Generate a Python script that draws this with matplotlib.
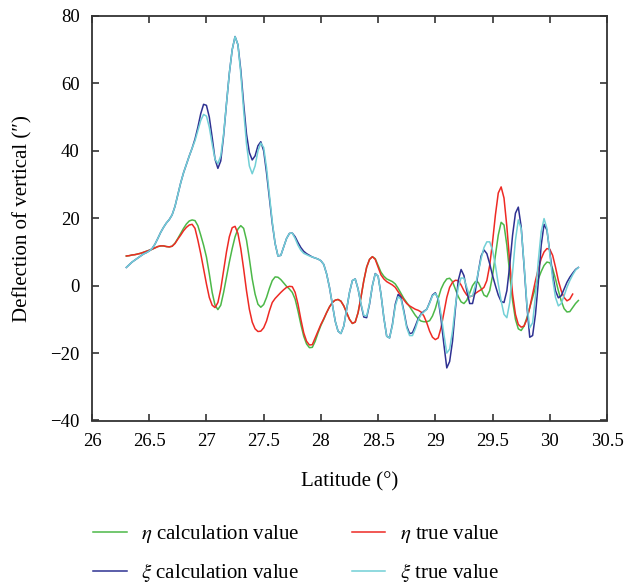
import numpy as np
import matplotlib
matplotlib.use("Agg")
import matplotlib.pyplot as plt

plt.rcParams['font.family'] = ['Liberation Serif', 'DejaVu Serif']
plt.rcParams['mathtext.fontset'] = 'stix'

# latitude grid (deg), 0.025 step
latitude = np.linspace(26.30, 30.25, 159)

xi_calc = [
    5.4, 6.2, 7.0, 7.6, 8.2, 8.8, 9.4, 9.8,
    10.3, 11.0, 12.3, 14.0, 15.8, 17.3, 18.6, 19.6,
    21.0, 23.5, 27.0, 30.5, 33.5, 36.0, 38.5, 40.8,
    43.5, 47.0, 51.0, 53.8, 53.5, 50.0, 44.0, 37.5,
    34.8, 37.0, 44.5, 54.0, 63.0, 70.0, 73.9, 71.5,
    64.0, 54.0, 45.0, 39.5, 37.3, 38.5, 41.5, 42.7,
    40.0, 33.5, 26.0, 18.5, 12.5, 8.8, 9.0, 11.5,
    14.0, 15.5, 15.6, 14.5, 12.8, 11.3, 10.2, 9.5,
    9.0, 8.5, 8.2, 7.9, 7.4, 6.3, 3.5, -0.5,
    -5.5, -10.5, -13.5, -14.2, -12.0, -7.0, -2.0, 1.5,
    2.0, -1.0, -5.5, -9.3, -9.5, -5.5, 0.0, 3.6,
    2.8, -2.5, -9.5, -15.0, -15.5, -11.5, -5.5, -2.6,
    -3.5, -7.5, -12.0, -14.2, -14.0, -12.0, -9.8, -8.4,
    -7.6, -7.0, -5.0, -2.8, -2.1, -4.0, -10.0, -17.5,
    -24.4, -22.5, -16.5, -7.0, 1.5, 4.8, 3.0, -1.5,
    -5.3, -5.3, -1.5, 4.0, 8.8, 10.6, 9.5, 6.5,
    3.0, 0.0, -2.8, -4.7, -5.0, -1.5, 6.0, 15.0,
    21.5, 23.3, 17.5, 6.0, -6.0, -15.3, -14.8, -8.5,
    1.0, 12.0, 18.2, 16.5, 10.0, 3.5, -1.5, -3.6,
    -3.0, -1.0, 1.0, 2.5, 3.7, 4.8, 5.4,
]

xi_true = [
    5.4, 6.2, 7.0, 7.6, 8.2, 8.8, 9.4, 9.8,
    10.3, 11.0, 12.3, 14.0, 15.8, 17.3, 18.6, 19.6,
    21.0, 23.5, 27.0, 30.5, 33.5, 36.0, 38.5, 40.8,
    43.0, 46.0, 49.0, 50.8, 50.3, 47.0, 42.0, 37.5,
    36.2, 38.5, 45.0, 54.0, 63.0, 70.0, 73.9, 71.5,
    63.0, 52.0, 42.0, 35.5, 33.2, 35.5, 40.0, 42.3,
    41.0, 35.0, 27.0, 19.0, 12.5, 8.8, 9.0, 11.5,
    14.0, 15.5, 15.6, 14.0, 12.0, 10.5, 9.6, 9.2,
    8.8, 8.5, 8.2, 7.9, 7.4, 6.3, 3.5, -0.5,
    -5.5, -10.5, -13.5, -14.2, -12.0, -7.0, -2.0, 1.5,
    2.0, -1.0, -5.3, -8.8, -9.0, -5.3, 0.0, 3.5,
    2.8, -2.5, -9.5, -15.0, -15.5, -11.8, -6.0, -3.3,
    -4.0, -8.0, -12.5, -14.8, -14.8, -12.8, -10.2, -8.6,
    -7.8, -7.0, -5.2, -3.0, -2.3, -3.8, -8.5, -14.5,
    -20.0, -18.8, -13.5, -6.0, -0.5, 2.3, 2.2, -0.5,
    -3.2, -3.0, 0.0, 4.0, 8.0, 11.3, 13.0, 13.0,
    10.5, 6.0, 0.5, -4.5, -8.5, -9.5, -5.0, 4.0,
    13.5, 19.5, 17.0, 6.5, -5.5, -12.5, -11.0, -3.0,
    7.5, 16.0, 19.9, 17.0, 9.5, 2.0, -3.5, -6.0,
    -5.3, -3.0, -0.5, 1.5, 3.2, 4.6, 5.4,
]

eta_true = [
    8.8, 8.9, 9.1, 9.2, 9.4, 9.6, 9.9, 10.2,
    10.5, 10.8, 11.2, 11.6, 11.8, 11.8, 11.6, 11.5,
    11.7, 12.5, 13.8, 15.0, 16.3, 17.3, 18.0, 18.2,
    17.0, 13.5, 9.5, 5.0, 0.5, -3.5, -5.8, -6.5,
    -5.0, -1.0, 4.5, 10.0, 14.5, 17.2, 17.6, 15.5,
    11.0, 5.0, -1.5, -7.0, -10.8, -12.8, -13.6, -13.5,
    -12.5, -10.5, -7.5, -5.0, -3.8, -2.9, -2.0, -1.2,
    -0.5, -0.2, -0.3, -2.0, -5.5, -10.0, -14.0, -16.5,
    -17.6, -17.5, -15.5, -13.5, -11.5, -9.8, -8.0, -6.3,
    -5.0, -4.3, -4.1, -4.6, -6.0, -8.0, -10.0, -11.2,
    -10.8, -8.0, -3.5, 1.5, 5.5, 7.8, 8.6, 7.8,
    5.5, 3.2, 2.0, 1.2, 0.7, 0.2, -0.5, -1.8,
    -3.0, -4.2, -5.3, -6.0, -6.5, -7.0, -7.3, -7.8,
    -9.0, -11.0, -13.5, -15.3, -16.0, -15.5, -12.5, -8.0,
    -3.5, -0.5, 1.0, 1.6, 1.5, 0.2, -1.5, -2.8,
    -3.3, -3.0, -2.3, -1.7, -1.2, -0.5, 1.5, 6.0,
    13.0, 21.0, 27.5, 29.3, 26.0, 17.5, 7.0, -2.5,
    -8.5, -11.5, -12.3, -12.0, -10.0, -6.5, -2.5, 1.5,
    5.0, 8.0, 10.0, 11.0, 10.8, 9.0, 5.5, 1.5,
    -1.5, -3.5, -4.5, -4.0, -2.5, np.nan, np.nan,
]

eta_calc = [
    8.8, 8.9, 9.1, 9.2, 9.4, 9.6, 9.9, 10.2,
    10.5, 10.8, 11.2, 11.6, 11.8, 11.8, 11.6, 11.5,
    11.7, 12.6, 14.0, 15.5, 17.0, 18.3, 19.2, 19.5,
    19.3, 17.8, 15.0, 12.0, 8.5, 3.5, -2.0, -5.8,
    -7.1, -5.8, -2.0, 2.5, 7.0, 11.0, 14.5, 16.8,
    17.8, 17.0, 13.5, 8.0, 2.0, -2.5, -5.5, -6.4,
    -5.6, -3.5, -0.8, 1.5, 2.6, 2.5, 1.8, 0.8,
    -0.2, -1.0, -2.0, -4.0, -7.5, -11.5, -15.0, -17.3,
    -18.4, -18.3, -16.5, -14.0, -11.8, -10.0, -8.0, -6.3,
    -5.0, -4.3, -4.1, -4.6, -6.0, -8.0, -10.0, -11.2,
    -10.8, -8.0, -3.5, 1.5, 5.5, 7.8, 8.6, 8.0,
    6.0, 4.0, 2.8, 2.0, 1.6, 1.2, 0.5, -0.8,
    -2.3, -3.8, -5.0, -6.2, -7.5, -8.8, -9.8, -10.5,
    -10.7, -10.7, -10.4, -9.0, -6.8, -3.8, -1.0, 0.8,
    2.0, 2.2, 1.2, -1.0, -3.2, -4.8, -5.3, -4.3,
    -2.2, 0.0, 1.2, 1.0, -0.8, -2.8, -3.3, -1.5,
    3.0, 9.0, 15.0, 18.8, 18.0, 12.0, 3.5, -4.5,
    -10.0, -12.8, -13.3, -12.0, -9.5, -6.5, -3.5, -0.5,
    2.0, 4.2, 6.0, 7.0, 6.8, 5.0, 2.0, -1.5,
    -4.5, -6.8, -7.8, -7.7, -6.5, -5.3, -4.4,
]

fig = plt.figure(figsize=(6.38, 5.84), dpi=100)
ax = fig.add_axes([92/638, 1 - 420.5/584, 515/638, 404.5/584])

ax.plot(latitude, eta_calc, color="#4cb848", lw=1.1, label=r"$\eta$ calculation value")
ax.plot(latitude, eta_true, color="#ee2a24", lw=1.1, label=r"$\eta$ true value")
ax.plot(latitude, xi_calc, color="#2e3192", lw=1.1, label=r"$\xi$ calculation value")
ax.plot(latitude, xi_true, color="#72d0d6", lw=1.1, label=r"$\xi$ true value")

ax.set_xlim(26, 30.5)
ax.set_ylim(-40, 80)
ax.set_xticks(np.arange(26, 30.51, 0.5))
ax.set_xticklabels(["26", "26.5", "27", "27.5", "28", "28.5", "29", "29.5", "30", "30.5"])
ax.set_yticks(np.arange(-40, 81, 20))
ax.tick_params(direction="in", top=True, right=True, length=5, width=1.2,
               labelsize=13.5, pad=9, color="#333333")
for s in ax.spines.values():
    s.set_color("#333333")
    s.set_linewidth(1.3)

ax.set_xlabel("Latitude (°)", fontsize=15, labelpad=16)
ax.set_ylabel("Deflection of vertical (″)", fontsize=15, labelpad=13)

# legend order: row 1 eta, row 2 xi
h, l = ax.get_legend_handles_labels()
order = [0, 2, 1, 3]
fig.legend([h[i] for i in order], [l[i] for i in order], ncol=2, frameon=False,
           loc="upper left", bbox_to_anchor=(83/638, 1 - 513/584),
           fontsize=15, handlelength=1.6, handletextpad=0.7,
           columnspacing=2.5, labelspacing=0.75, borderpad=0)

fig.savefig("out.png", dpi=100)
